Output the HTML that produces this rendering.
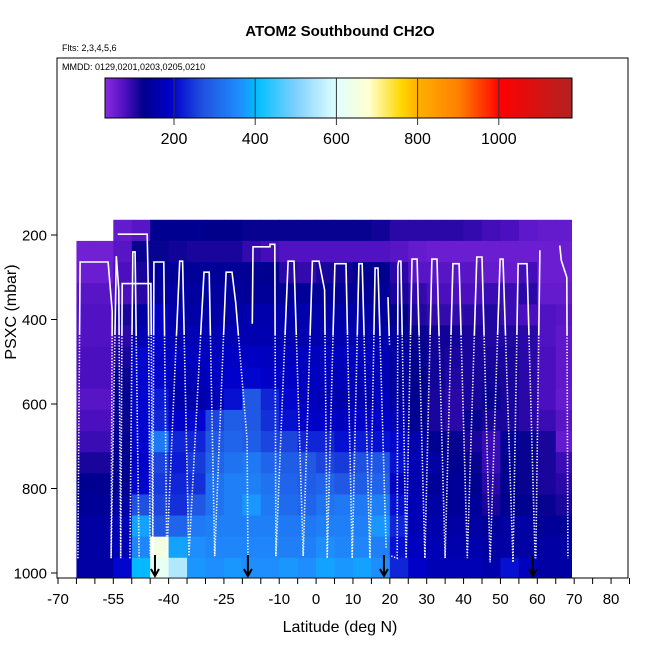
<!DOCTYPE html>
<html><head><meta charset="utf-8"><style>
body{margin:0;background:#fff;}
svg text{font-family:"Liberation Sans",sans-serif;}
</style></head><body>
<svg id="chart" width="650" height="650" viewBox="0 0 650 650" xmlns="http://www.w3.org/2000/svg">
<defs>
<linearGradient id="cbGrad" x1="0" x2="1" y1="0" y2="0"></linearGradient>
<clipPath id="clipTop"><rect x="0" y="0" width="650" height="335"/></clipPath>
<clipPath id="clipBot"><rect x="0" y="335" width="650" height="315"/></clipPath>
</defs>
<text x="340" y="36" text-anchor="middle" font-size="15" font-weight="bold">ATOM2 Southbound CH2O</text>
<text x="62" y="51" font-size="9">Flts: 2,3,4,5,6</text>
<rect x="57" y="58" width="571" height="520" fill="none" stroke="#000" stroke-width="1"/>
<text x="62" y="70" font-size="9">MMDD: 0129,0201,0203,0205,0210</text>
<g id="heat"></g>
<g id="track"></g>
<g id="arrows"></g>
<g id="colorbar"></g>
<g id="xaxis"></g>
<g id="yaxis"></g>
<text x="340" y="632" text-anchor="middle" font-size="16">Latitude (deg N)</text>
<text transform="translate(16,312) rotate(-90)" text-anchor="middle" font-size="16">PSXC (mbar)</text>
</svg>
<script>
const latEdgeStart = -65, latStep = 5, latEnd = 69.3;
const pEdgeStart = 164, pStep = 50, pEnd = 1010;
const heatRows = [
[null,null,60,70,130,130,130,125,125,120,120,120,120,120,120,120,115,100,100,100,100,95,85,80,65,60,60],
[50,50,70,120,120,115,110,110,110,95,85,75,75,75,75,75,75,70,60,55,55,55,55,55,55,55,55],
[55,55,80,110,140,140,140,140,140,135,130,100,95,110,115,130,130,100,70,70,70,70,60,60,85,55,55],
[70,70,80,100,150,150,145,145,145,140,140,140,140,140,140,140,140,110,95,80,80,80,90,90,100,60,60],
[75,75,110,150,190,155,155,155,155,160,160,160,160,155,155,155,145,125,105,95,95,100,105,90,80,75,70],
[75,75,100,170,190,170,170,170,170,165,165,165,165,165,165,165,160,145,120,115,115,110,105,105,100,75,65],
[80,80,110,200,190,180,180,180,185,185,180,180,180,180,180,180,170,150,130,115,110,110,110,110,100,80,65],
[80,80,120,200,200,170,170,180,195,200,190,185,180,180,175,175,170,145,125,115,105,110,115,110,100,80,65],
[70,70,130,200,220,160,160,170,210,280,230,200,180,170,160,160,180,150,130,110,100,110,120,110,100,80,60],
[80,80,120,200,230,190,200,260,290,280,240,210,190,190,180,190,190,170,130,110,100,120,110,110,100,90,70],
[90,90,130,200,330,230,230,280,300,290,260,260,230,230,210,220,210,200,160,130,120,110,90,140,120,110,60],
[110,110,130,190,260,220,250,300,320,330,300,290,280,260,250,270,280,210,170,150,130,120,90,130,120,110,90],
[130,130,130,200,250,230,240,320,340,340,320,300,290,300,280,290,300,180,160,140,140,130,100,130,120,110,100],
[140,140,150,270,260,240,280,320,340,370,330,310,300,320,330,330,340,210,170,150,140,140,110,130,130,120,110],
[150,150,170,380,280,300,330,340,340,340,340,330,330,340,340,340,370,230,170,160,150,150,140,150,150,140,140],
[150,150,170,350,650,380,360,350,350,350,350,340,340,360,350,350,340,210,180,170,160,160,150,150,150,150,150],
[150,150,200,400,620,550,370,360,370,360,360,370,360,380,370,380,360,230,190,170,170,170,160,210,180,150,150]
];
const trackLat = [-64.6,-64.0,-56.4,-55.3,-55.6,-54.2,-53.5,-53.0,-52.6,-44.8,-44.3,-44.0,-41.3,-40.5,-37.0,-36.2,-34.5,-30.4,-29.0,-27.5,-24.4,-22.8,-21.8,-18.7,-18.5,NaN,
 -53.8,-45.8,-45.5,-45.0,NaN,-50.5,-49.7,-49.1,-48.0,NaN,
 -17.3,-17.1,-12.5,-12.5,-11.2,-10.9,-7.6,-6.0,-3.5,-1.0,0.8,2.3,3.0,5.1,8.1,9.8,11.6,12.5,14.6,16.0,16.8,19.0,NaN,
 19.5,19.9,NaN,20.4,22.0,22.2,22.4,23.0,24.4,26.0,27.4,29.5,31.4,32.8,35.0,37.1,38.8,41.0,43.6,45.0,47.2,49.9,50.7,53.4,54.8,57.2,59.4,NaN,
 60.7,59.6,NaN,66.1,66.5,68.0,68.3];
const trackP = [965,264,264,380,965,250,330,965,315,315,960,264,264,960,262,262,960,288,288,960,288,288,360,685,960,NaN,
 198,198,330,960,NaN,965,240,240,965,NaN,
 410,228,228,222,222,960,262,262,960,262,262,330,965,268,268,965,268,268,965,278,278,940,NaN,
 347,460,NaN,960,965,272,262,262,965,257,257,965,257,257,965,268,268,965,252,252,975,257,257,975,268,268,965,NaN,
 236,965,NaN,225,260,300,965];
const arrowLat = [-43.7,-18.5,18.4,58.8];
const cbTicks = [200,400,600,800,1000];
const xTickLabels = [-70,-55,-40,-25,-10,0,10,20,30,40,50,60,70,80];
const yTickLabels = [200,400,600,800,1000];

const NS = "http://www.w3.org/2000/svg";
function xS(lat){return 58 + (lat + 70) * 3.687;}
function yS(p){return 235 + (p - 200) * 0.4225;}
function cbX(v){return 174 + (v - 200) * 0.406;}
const stops = [[30,[138,43,226]],[80,[75,15,191]],[125,[0,0,139]],[195,[0,0,205]],[270,[32,80,224]],[365,[30,144,255]],[405,[0,191,255]],[500,[127,208,255]],[600,[224,255,255]],[680,[255,255,208]],[760,[255,215,0]],[800,[255,176,0]],[900,[255,128,0]],[980,[255,32,0]],[1000,[255,0,0]],[1180,[178,34,34]]];
function col(v){
  if(v<=stops[0][0]) return rgb(stops[0][1]);
  for(let i=1;i<stops.length;i++){
    if(v<=stops[i][0]){
      const a=stops[i-1],b=stops[i],t=(v-a[0])/(b[0]-a[0]);
      return rgb(a[1].map((c,k)=>c+(b[1][k]-c)*t));
    }
  }
  return rgb(stops[stops.length-1][1]);
}
function rgb(c){return "rgb("+c.map(x=>Math.round(x)).join(",")+")";}
function mk(tag,attrs,parent){const e=document.createElementNS(NS,tag);for(const k in attrs)e.setAttribute(k,attrs[k]);parent.appendChild(e);return e;}

const heat=document.getElementById('heat');
heatRows.forEach((row,r)=>{
  const p0=pEdgeStart+r*pStep, p1=Math.min(p0+pStep,pEnd);
  row.forEach((v,c)=>{
    if(v===null) return;
    const l0=latEdgeStart+c*latStep, l1=Math.min(l0+latStep,latEnd);
    const x0=xS(l0),x1=xS(l1),y0=yS(p0),y1=yS(p1);
    const rc=mk('rect',{x:x0.toFixed(2),y:y0.toFixed(2),width:(x1-x0+0.4).toFixed(2),height:(y1-y0+0.4).toFixed(2),fill:col(v)},heat);
    
    
  });
});

const track=document.getElementById('track');
let segs=[],cur=[];
for(let i=0;i<trackLat.length;i++){
  if(isNaN(trackLat[i])){if(cur.length)segs.push(cur);cur=[];continue;}
  cur.push(xS(trackLat[i]).toFixed(1)+","+yS(trackP[i]).toFixed(1));
}
if(cur.length)segs.push(cur);
segs.forEach(s=>{
  const a=mk('polyline',{points:s.join(' '),fill:'none',stroke:'#fff','stroke-width':'1.6','clip-path':'url(#clipTop)'},track);
  
  
  const b=mk('polyline',{points:s.join(' '),fill:'none',stroke:'#fff','stroke-width':'1.6','stroke-dasharray':'1.3 1.6','clip-path':'url(#clipBot)'},track);
  
  
});

const arr=document.getElementById('arrows');
arrowLat.forEach(l=>{
  const x=xS(l);
  const g=mk('path',{d:`M${x},555 L${x},576 M${x-4},569 L${x},576 L${x+4},569`,stroke:'#000','stroke-width':'2',fill:'none'},arr);
  
  
});

const grad=document.getElementById('cbGrad');
for(let v=30;v<=1180;v+=10){
  mk('stop',{offset:((cbX(v)-105)/467).toFixed(4),'stop-color':col(v)},grad);
}
const cb=document.getElementById('colorbar');
const cr=mk('rect',{x:105,y:78,width:467,height:40,fill:'url(#cbGrad)',stroke:'#000','stroke-width':'1'},cb);


cbTicks.forEach(v=>{
  const x=cbX(v);
  const ln=mk('line',{x1:x,x2:x,y1:78,y2:125,stroke:'#333','stroke-width':'1'},cb);
  
  
  const t=mk('text',{x:x,y:144,'text-anchor':'middle','font-size':'16'},cb);
  t.textContent=v;
  
  
});

const xa=document.getElementById('xaxis');
for(let v=-70;v<=85;v+=5){
  const x=xS(v);
  const ln=mk('line',{x1:x,x2:x,y1:578,y2:584,stroke:'#000','stroke-width':'1'},xa);
  
  
}
xTickLabels.forEach(v=>{
  const t=mk('text',{x:xS(v),y:604,'text-anchor':'middle','font-size':'15'},xa);
  t.textContent=v;
  
  
});
const ya=document.getElementById('yaxis');
yTickLabels.forEach(v=>{
  const y=yS(v);
  const ln=mk('line',{x1:51,x2:57,y1:y,y2:y,stroke:'#000','stroke-width':'1'},ya);
  
  
  const t=mk('text',{x:47,y:y+5.5,'text-anchor':'end','font-size':'15'},ya);
  t.textContent=v;
  
  
});
</script>
</body></html>
